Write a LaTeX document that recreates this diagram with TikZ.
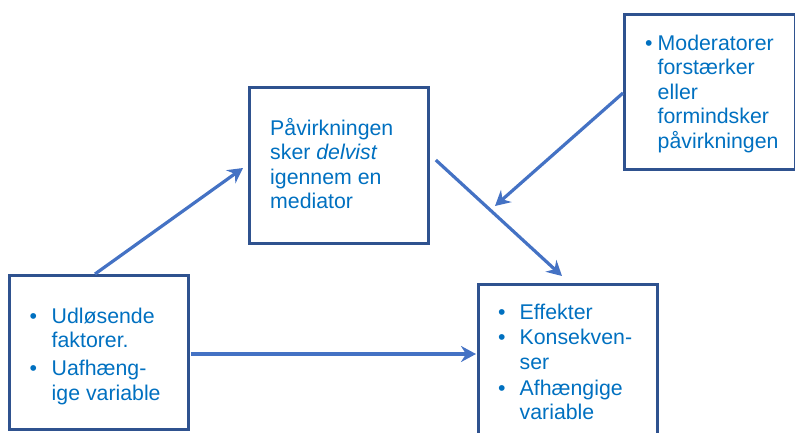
\documentclass[tikz,border=0pt]{standalone}
\usepackage{fontspec}
\setmainfont{Liberation Sans}
\usetikzlibrary{arrows.meta,calc}
\definecolor{boxline}{HTML}{2F528F}
\definecolor{arrowc}{HTML}{4472C4}
\definecolor{txt}{HTML}{0070C0}
\begin{document}
\begin{tikzpicture}[x=1pt,y=-1pt,
  box/.style={draw=boxline,line width=2.8pt,anchor=north west,inner sep=0pt},
  conn/.style={draw=arrowc,line width=3.2pt,-{Stealth[length=15pt,width=16pt,inset=5pt]}},
  lbl/.style={text=txt,anchor=base west,inner sep=0pt,font=\fontsize{21.3}{24.5}\selectfont},
]
\useasboundingbox (0,0) rectangle (795,432);
% boxes
\node[box,minimum width=179pt,minimum height=154pt] (udl) at (8,274) {};
\node[box,minimum width=179pt,minimum height=156pt] (med) at (248,86) {};
\node[box,minimum width=179pt,minimum height=156pt] (eff) at (477,283) {};
\node[box,minimum width=171pt,minimum height=155pt] (mod) at (623,13) {};
% texts
\node[lbl] (tudl) at (29.5,323) {\begin{tabular}[t]{@{}p{22pt}@{}l@{}}
  • & Udløsende\\ & faktorer.\\[3.5pt]
  • & Uafhæng-\\ & ige variable
\end{tabular}};
\node[lbl] (tmed) at (270,135) {\begin{tabular}[t]{@{}l@{}}
  Påvirkningen\\ sker \textit{delvist}\\ igennem en\\ mediator
\end{tabular}};
\node[lbl] (teff) at (498,319) {\begin{tabular}[t]{@{}p{21.5pt}@{}l@{}}
  • & Effekter\\[1pt]
  • & Konsekven-\\ & ser\\[1.5pt]
  • & Afhængige\\ & variable
\end{tabular}};
\node[lbl] (tmod) at (645,50) {\begin{tabular}[t]{@{}p{12.5pt}@{}l@{}}
  • & Moderatorer\\ & forstærker\\ & eller\\ & formindsker\\ & påvirkningen
\end{tabular}};
% connector end points
\coordinate (a1s) at ($(udl.north west)+(87,0)$);
\coordinate (a1e) at ($(med.north west)+(-5,82)$);
\coordinate (a2s) at ($(med.north east)+(6,74)$);
\coordinate (a2e) at ($(eff.north west)+(85,-7)$);
\coordinate (a3s) at ($(mod.north west)+(0,80)$);
\coordinate (a3e) at (495,206);
\coordinate (a4s) at ($(udl.north east)+(1,80)$);
\coordinate (a4e) at ($(eff.north west)+(-1,71)$);
\draw[conn] (a1s) -- (a1e);
\draw[conn] (a2s) -- (a2e);
\draw[conn] (a3s) -- (a3e);
\draw[conn] (a4s) -- (a4e);
\end{tikzpicture}
\end{document}
